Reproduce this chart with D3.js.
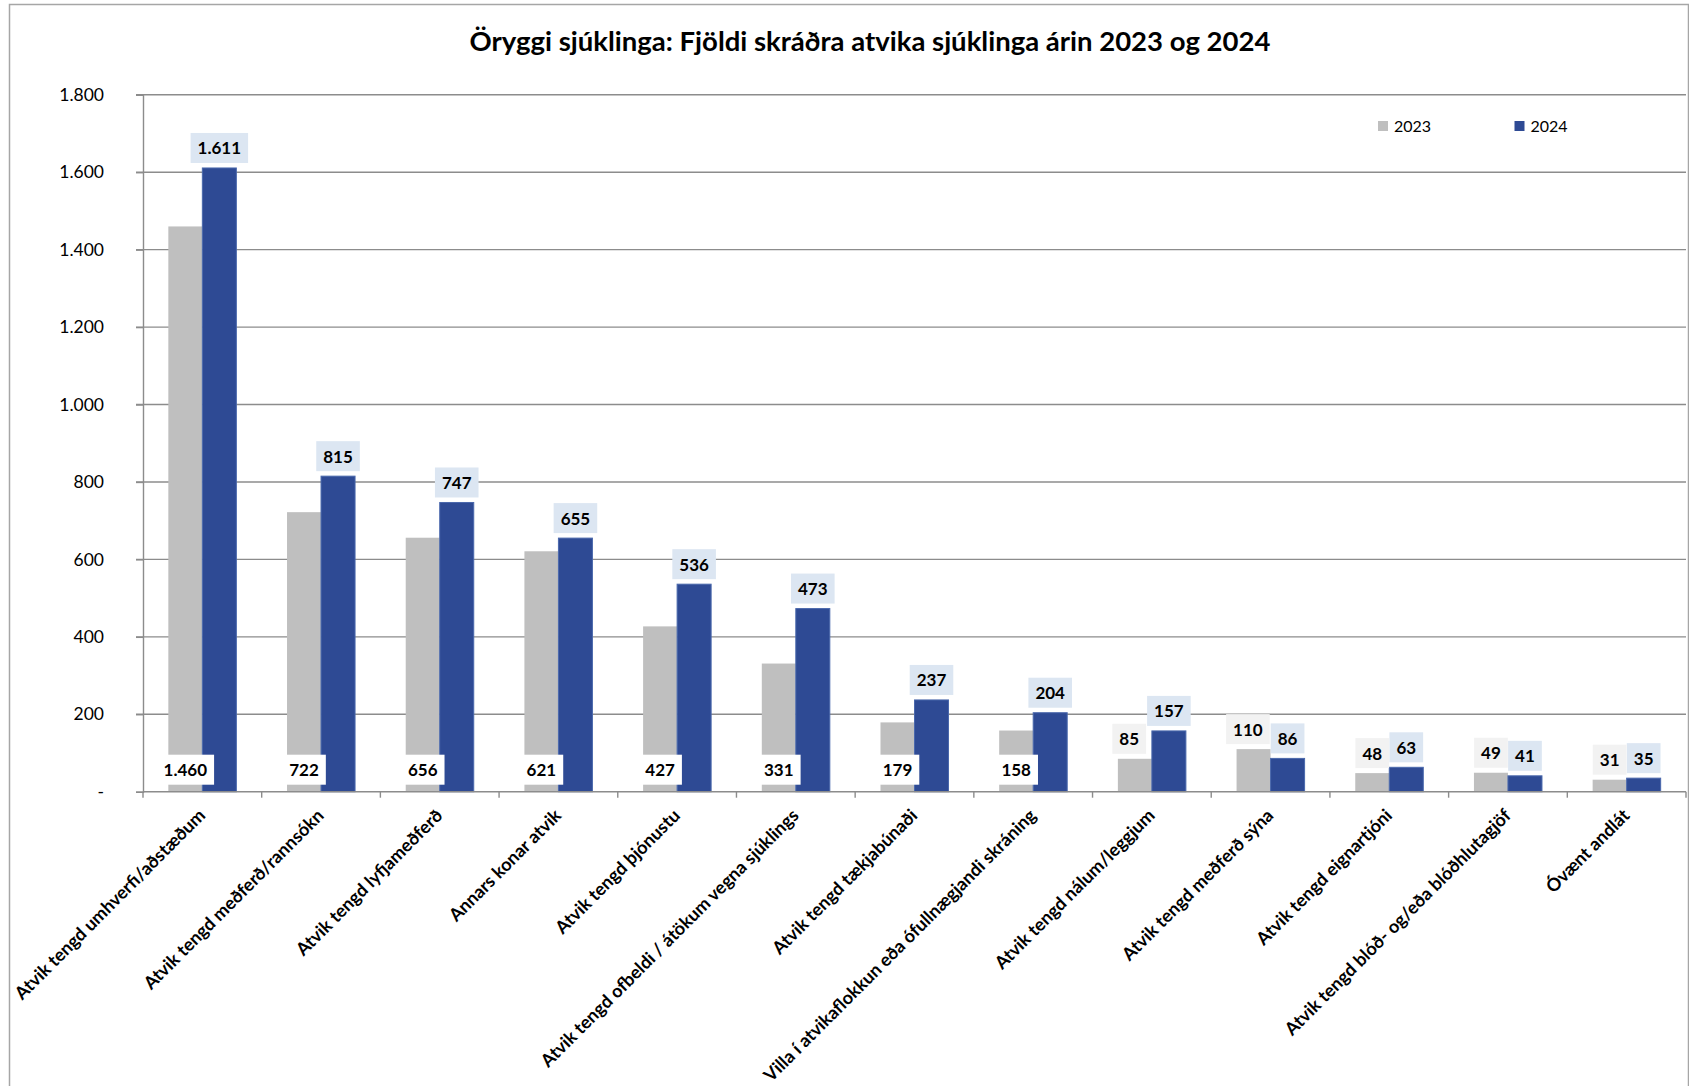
<!DOCTYPE html>
<html>
<head>
<meta charset="utf-8">
<script src="https://cdn.jsdelivr.net/npm/d3@7"></script>
<style>
  html, body { margin: 0; padding: 0; background: #ffffff; }
  svg { display: block; }
  text { font-family: Lato, "Open Sans", sans-serif; }
</style>
</head>
<body>
<svg id="chart" width="1689" height="1086"></svg>
<script>
// ---- data ----
const title = "Öryggi sjúklinga: Fjöldi skráðra atvika sjúklinga árin 2023 og 2024";
const categories = [
  "Atvik tengd umhverfi/aðstæðum",
  "Atvik tengd meðferð/rannsókn",
  "Atvik tengd lyfjameðferð",
  "Annars konar atvik",
  "Atvik tengd þjónustu",
  "Atvik tengd ofbeldi / átökum vegna sjúklings",
  "Atvik tengd tækjabúnaði",
  "Villa í atvikaflokkun eða ófullnægjandi skráning",
  "Atvik tengd nálum/leggjum",
  "Atvik tengd meðferð sýna",
  "Atvik tengd eignartjóni",
  "Atvik tengd blóð- og/eða blóðhlutagjöf",
  "Óvænt andlát"
];
const seriesNames = ["2023", "2024"];
const values2023 = [1460, 722, 656, 621, 427, 331, 179, 158, 85, 110, 48, 49, 31];
const values2024 = [1611, 815, 747, 655, 536, 473, 237, 204, 157, 86, 63, 41, 35];
const yTickValues = [0, 200, 400, 600, 800, 1000, 1200, 1400, 1600, 1800];
const yTickLabels = ["-", "200", "400", "600", "800", "1.000", "1.200", "1.400", "1.600", "1.800"];

// ---- styles ----
const colors = { "2023": "#BFBFBF", "2024": "#2E4A94" };
const labelBg = { "2023": "#F2F2F2", "2024": "#DCE6F2" };
const gridColor = "#8C8C8C";

const svg = d3.select("#chart");
const plot = { left: 143, right: 1686, top: 94.8, bottom: 791.7 };

const locale = d3.formatLocale({ decimal: ",", thousands: ".", grouping: [3], currency: ["", ""] });
const fmt = locale.format(",d");

// border
svg.append("rect")
  .attr("x", 9.5).attr("y", 4.5)
  .attr("width", 1679).attr("height", 1100)
  .attr("fill", "none").attr("stroke", "#A6A6A6").attr("stroke-width", 1.5);

// title
svg.append("text")
  .attr("x", 870).attr("y", 51)
  .attr("text-anchor", "middle")
  .attr("font-size", 27.5).attr("font-weight", 700).attr("fill", "#000")
  .text(title);

// scales
const x = d3.scaleBand().domain(categories).range([plot.left, plot.right]).paddingInner(0).paddingOuter(0);
const xs = d3.scaleBand().domain(seriesNames).range([0, x.bandwidth()]).paddingInner(0).paddingOuter(0.745);
const y = d3.scaleLinear().domain([0, 1800]).range([plot.bottom, plot.top]);

// gridlines
svg.append("g").selectAll("line")
  .data(yTickValues.filter(d => d > 0))
  .join("line")
  .attr("x1", plot.left - 7).attr("x2", plot.right)
  .attr("y1", d => y(d)).attr("y2", d => y(d))
  .attr("stroke", gridColor).attr("stroke-width", 1.4);

// y axis
const yAxis = d3.axisLeft(y)
  .tickValues(yTickValues)
  .tickFormat((d, i) => yTickLabels[i])
  .tickSize(7).tickPadding(32);
const gy = svg.append("g").attr("transform", `translate(${plot.left},0)`).call(yAxis);
gy.select(".domain").attr("stroke", gridColor).attr("stroke-width", 1.4);
gy.selectAll(".tick line").attr("stroke", gridColor).attr("stroke-width", 1.4);
gy.selectAll(".tick text").attr("font-size", 17.5).attr("fill", "#000")
  .attr("font-family", "Lato, sans-serif");

// bars
const series = seriesNames.map((s, si) => ({
  name: s,
  values: categories.map((c, i) => ({ cat: c, i, value: si === 0 ? values2023[i] : values2024[i] }))
}));

const gBars = svg.append("g");
series.forEach(s => {
  gBars.append("g").selectAll("rect")
    .data(s.values)
    .join("rect")
    .attr("x", d => x(d.cat) + xs(s.name))
    .attr("width", xs.bandwidth())
    .attr("y", d => y(d.value))
    .attr("height", d => y(0) - y(d.value))
    .attr("fill", colors[s.name])
    .attr("stroke", s.name === "2024" ? "#4A68AC" : "none")
    .attr("stroke-width", 1);
});

// x axis line and ticks
const gx = svg.append("g");
gx.append("line")
  .attr("x1", plot.left).attr("x2", plot.right)
  .attr("y1", y(0)).attr("y2", y(0))
  .attr("stroke", gridColor).attr("stroke-width", 1.4);
const boundaries = categories.map(c => x(c)).concat([plot.right]);
gx.selectAll("line.tk").data(boundaries).join("line").attr("class", "tk")
  .attr("x1", d => d).attr("x2", d => d)
  .attr("y1", y(0)).attr("y2", y(0) + 6)
  .attr("stroke", gridColor).attr("stroke-width", 1.4);

// x labels
gx.selectAll("text.cat").data(categories).join("text").attr("class", "cat")
  .attr("text-anchor", "end")
  .attr("font-size", 18).attr("font-weight", 700).attr("fill", "#000")
  .attr("transform", d => `translate(${x(d) + x.bandwidth() / 2 + 4},${y(0) + 25}) rotate(-45)`)
  .text(d => d);

// data labels
const gLab = svg.append("g");
const PAD = 14, BH = 30, GAP = 5;
function makeLabel(cx, cy, txt, bg) {
  const g = gLab.append("g");
  const t = g.append("text")
    .attr("x", cx).attr("y", cy)
    .attr("text-anchor", "middle").attr("dominant-baseline", "central")
    .attr("font-size", 17).attr("font-weight", 700).attr("fill", "#000")
    .text(txt);
  const w = t.node().getComputedTextLength() + PAD;
  const r = g.insert("rect", "text")
    .attr("x", cx - w / 2).attr("y", cy - BH / 2)
    .attr("width", w).attr("height", BH)
    .attr("fill", bg);
  return { g, t, r, cx, cy, w };
}
function moveLabel(L, cx) {
  L.t.attr("x", cx);
  L.r.attr("x", cx - L.w / 2);
  L.cx = cx;
}
categories.forEach((c, i) => {
  const v23 = values2023[i], v24 = values2024[i];
  const cx23 = x(c) + xs("2023") + xs.bandwidth() / 2;
  const cx24 = x(c) + xs("2024") + xs.bandwidth() / 2;
  const L24 = makeLabel(cx24, y(v24) - GAP - BH / 2, fmt(v24), labelBg["2024"]);
  if (v23 > 150) {
    makeLabel(cx23, y(0) - 22, fmt(v23), "#FFFFFF");
  } else {
    const L23 = makeLabel(cx23, y(v23) - GAP - BH / 2, fmt(v23), labelBg["2023"]);
    // avoid overlapping the neighbouring 2024 label
    const right23 = L23.cx + L23.w / 2, left24 = L24.cx - L24.w / 2;
    const vOverlap = Math.abs(L23.cy - L24.cy) < BH;
    if (vOverlap && right23 - left24 > 2) {
      moveLabel(L23, left24 - 1 - L23.w / 2);
    }
  }
});

// legend
const legend = svg.append("g");
const legendX = [1378, 1514.5];
seriesNames.forEach((s, i) => {
  legend.append("rect").attr("x", legendX[i]).attr("y", 121).attr("width", 10).attr("height", 10)
    .attr("fill", colors[s]);
  legend.append("text").attr("x", legendX[i] + 16).attr("y", 131.5)
    .attr("font-size", 16).attr("fill", "#000").text(s);
});
</script>
</body>
</html>
